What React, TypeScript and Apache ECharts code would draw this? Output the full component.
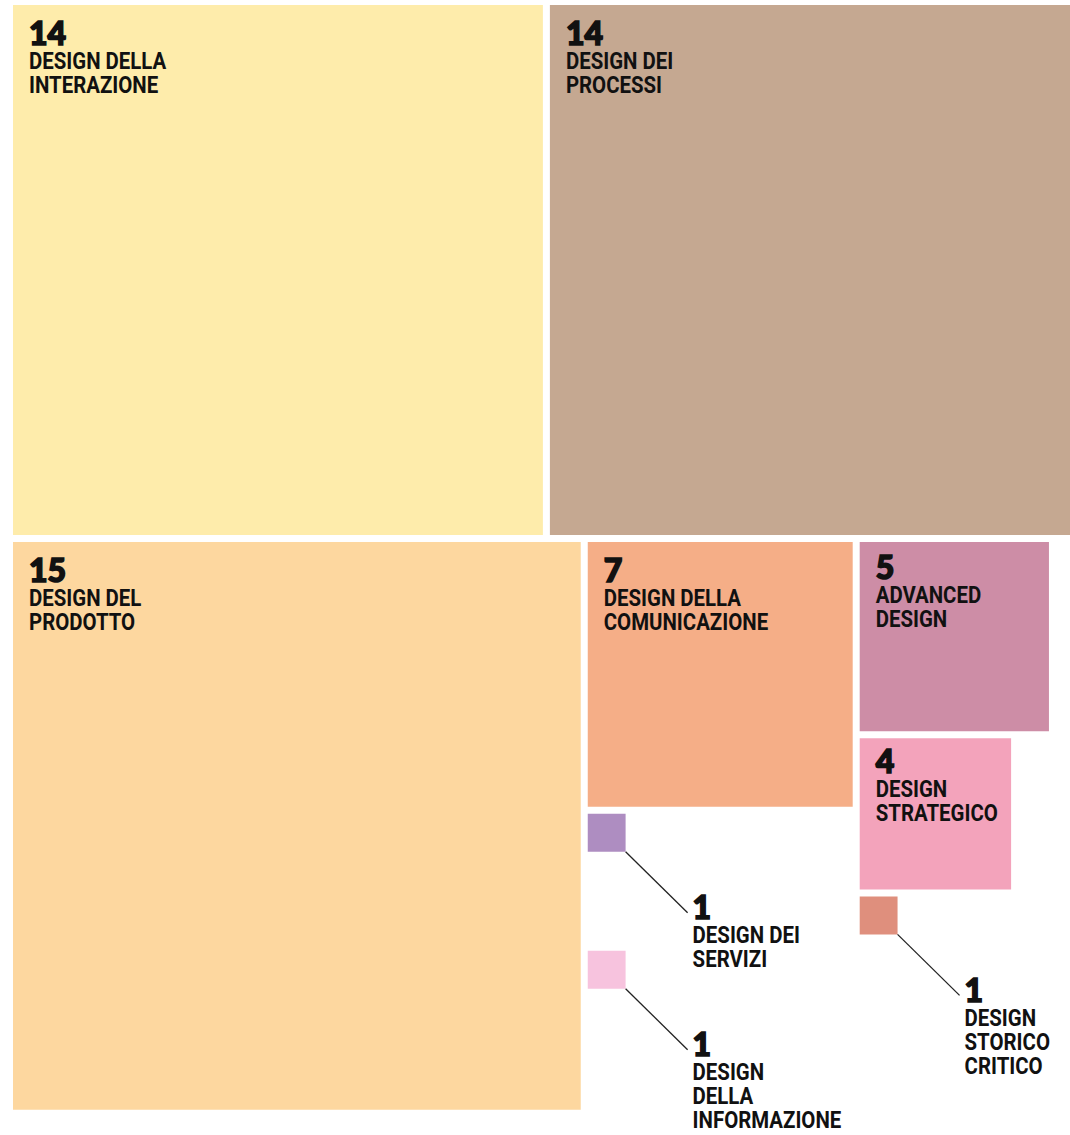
import React, { useEffect, useRef } from "react";
import * as echarts from "echarts";

// ---- data ----
const names: string[] = [
  "DESIGN DELLA\nINTERAZIONE",
  "DESIGN DEI\nPROCESSI",
  "DESIGN DEL\nPRODOTTO",
  "DESIGN DELLA\nCOMUNICAZIONE",
  "ADVANCED\nDESIGN",
  "DESIGN\nSTRATEGICO",
  "DESIGN DEI\nSERVIZI",
  "DESIGN\nDELLA\nINFORMAZIONE",
  "DESIGN\nSTORICO\nCRITICO",
];
const values: number[] = [14, 14, 15, 7, 5, 4, 1, 1, 1];
// layout of each square's top-left corner, in value units
const layoutX: number[] = [0, 14.185, 0, 15.185, 22.37, 22.37, 15.185, 15.185, 22.37];
const layoutY: number[] = [0, 0, 14.185, 14.185, 14.185, 19.37, 21.37, 24.99, 23.555];
const colors: string[] = [
  "#FEECAB",
  "#C5A891",
  "#FDD79F",
  "#F5AE87",
  "#CD8DA6",
  "#F3A3BB",
  "#AE8DC1",
  "#F7C3DE",
  "#DF8F7D",
];

const UNIT = 37.85;
const W = 1070;
const H = 1135;
const GRID_LEFT = 13;
const GRID_TOP = 5;

const NUM_FONT = "900 32px Lato, 'DejaVu Sans', sans-serif";
const TXT_FONT = "bold 24px Roboto, 'Liberation Sans', sans-serif";
const TXT_SCALE = 0.85;
const INK = "#111111";

export default function App() {
  const ref = useRef<HTMLDivElement>(null);
  useEffect(() => {
    document.body.style.margin = "0";
    if (!ref.current) return;
    const chart = echarts.init(ref.current, undefined, { renderer: "svg" });
    const data = values.map((v, i) => [layoutX[i], layoutY[i], v, i]);
    chart.setOption({
      animation: false,
      backgroundColor: "#ffffff",
      grid: {
        left: GRID_LEFT,
        top: GRID_TOP,
        width: W - GRID_LEFT,
        height: H - GRID_TOP,
        containLabel: false,
      },
      xAxis: {
        type: "value",
        min: 0,
        max: (W - GRID_LEFT) / UNIT,
        show: false,
      },
      yAxis: {
        type: "value",
        min: 0,
        max: (H - GRID_TOP) / UNIT,
        inverse: true,
        show: false,
      },
      series: [
        {
          type: "custom",
          clip: false,
          encode: { x: 0, y: 1 },
          data,
          renderItem: (params: any, api: any) => {
            const x = api.value(0);
            const y = api.value(1);
            const v = api.value(2);
            const idx = api.value(3);
            const p1 = api.coord([x, y]);
            const p2 = api.coord([x + v, y + v]);
            const w = p2[0] - p1[0];
            const h = p2[1] - p1[1];
            const children: any[] = [
              {
                type: "rect",
                shape: { x: p1[0], y: p1[1], width: w, height: h },
                style: { fill: colors[idx] },
              },
            ];
            const lines = names[idx].split("\n");
            let lx: number;
            let numY: number;
            if (v >= 4) {
              lx = p1[0] + 16;
              numY = p1[1] + (v >= 7 ? 27.5 : v >= 5 ? 24.5 : 22);
            } else {
              const cx = p2[0];
              const cy = p2[1];
              children.push({
                type: "line",
                shape: { x1: cx, y1: cy, x2: cx + 62, y2: cy + 61 },
                style: { stroke: "#222222", lineWidth: 1.3 },
              });
              lx = cx + 67;
              numY = cy + 55;
            }
            children.push({
              type: "text",
              x: lx,
              y: numY,
              style: {
                text: String(v),
                fill: INK,
                stroke: INK,
                lineWidth: 1.6,
                font: NUM_FONT,
                lineHeight: 24,
                align: "left",
                verticalAlign: "middle",
              },
            });
            lines.forEach((t, k) => {
              children.push({
                type: "text",
                x: lx,
                y: numY + 28 + 24 * k,
                scaleX: TXT_SCALE,
                style: {
                  text: t,
                  fill: INK,
                  font: TXT_FONT,
                  lineHeight: 18,
                  align: "left",
                  verticalAlign: "middle",
                },
              });
            });
            return { type: "group", children };
          },
        },
      ],
    });
    return () => chart.dispose();
  }, []);
  return <div ref={ref} style={{ width: W, height: H }} />;
}
